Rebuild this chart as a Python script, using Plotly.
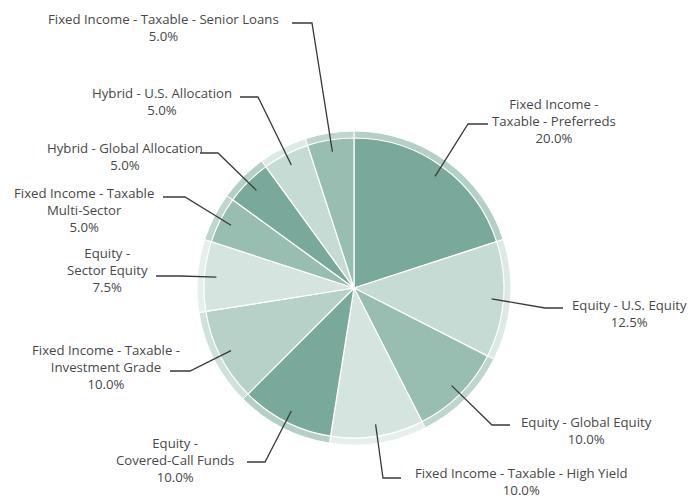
import math
import plotly.graph_objects as go

# ---- data ----
categories = [
    "Fixed Income - Taxable - Preferreds",
    "Equity - U.S. Equity",
    "Equity - Global Equity",
    "Fixed Income - Taxable - High Yield",
    "Equity - Covered-Call Funds",
    "Fixed Income - Taxable - Investment Grade",
    "Equity - Sector Equity",
    "Fixed Income - Taxable Multi-Sector",
    "Hybrid - Global Allocation",
    "Hybrid - U.S. Allocation",
    "Fixed Income - Taxable - Senior Loans",
]
values = [20.0, 12.5, 10.0, 10.0, 10.0, 10.0, 7.5, 5.0, 5.0, 5.0, 5.0]
label_text = [
    "Fixed Income -<br>Taxable - Preferreds",
    "Equity - U.S. Equity",
    "Equity - Global Equity",
    "Fixed Income - Taxable - High Yield",
    "Equity -<br>Covered-Call Funds",
    "Fixed Income - Taxable -<br>Investment Grade",
    "Equity -<br>Sector Equity",
    "Fixed Income - Taxable<br>Multi-Sector",
    "Hybrid - Global Allocation",
    "Hybrid - U.S. Allocation",
    "Fixed Income - Taxable - Senior Loans",
]

# ---- style ----
slice_colors = ["#79a99a", "#c6dbd4", "#98bdb1", "#d6e4df", "#79a99a", "#b7d0c8",
                "#d6e4df", "#98bdb1", "#79a99a", "#c6dbd4", "#98bdb1"]
ring_colors = ["#b4cfc6", "#dce9e4", "#bfd6ce", "#e7efec", "#b4cfc6", "#d0e1da",
               "#e7efec", "#bfd6ce", "#b4cfc6", "#dce9e4", "#bfd6ce"]

W, H = 693, 500
CX, CY = 354, 288      # pie centre (pixels)
R_IN, R_OUT = 150, 157
R_DOT = 138

# label layout: (text centre x, text block centre y, elbow x, elbow y, end x, end y)
label_layout = [
    (554, 121, 468, 124, 488, 124),
    (629, 313, 545, 308, 563, 308),
    (586, 430, 492, 425, 510, 425),
    (521, 481, 383, 478, 401, 478),
    (175, 460, 265, 462, 247, 462),
    (106, 367, 190, 371, 170, 371),
    (107, 270, 180, 276, 156, 276),
    (84, 210, 185, 197, 163, 197),
    (125, 156, 218, 153, 200, 153),
    (162, 101, 258, 97, 240, 97),
    (163, 27, 312, 23, 292, 23),
]


def dom(r):
    return dict(x=[(CX - r) / W, (CX + r) / W],
                y=[(H - CY - r) / H, (H - CY + r) / H])


fig = go.Figure()
common = dict(labels=categories, values=values, sort=False, direction="clockwise",
              rotation=0, textinfo="none", hoverinfo="label+percent", showlegend=False)
fig.add_trace(go.Pie(domain=dom(R_OUT),
                     marker=dict(colors=ring_colors, line=dict(color="white", width=1)),
                     **common))
fig.add_trace(go.Pie(domain=dom(R_IN),
                     marker=dict(colors=slice_colors, line=dict(color="white", width=1.2)),
                     **common))

total = sum(values)
cum = 0.0
dots_x, dots_y = [], []
shapes, annotations = [], []
for v, txt, pct, lay in zip(values, label_text, values, label_layout):
    mid = (cum + v / 2) / total * 2 * math.pi
    cum += v
    dx = CX + R_DOT * math.sin(mid)
    dy = CY - R_DOT * math.cos(mid)
    dots_x.append(dx)
    dots_y.append(dy)
    tx, ty, ex, ey, lx, ly = lay
    shapes.append(dict(type="path", xref="x", yref="y",
                       path=f"M{dx:.1f},{dy:.1f} L{ex},{ey} L{lx},{ly}",
                       line=dict(color="#3a3a3a", width=1.3)))
    annotations.append(dict(x=tx, y=ty, xref="x", yref="y", showarrow=False,
                            text=f"{txt}<br>{pct:.1f}%", align="center",
                            xanchor="center", yanchor="middle",
                            font=dict(family="Open Sans", size=13.2, color="#484848")))

fig.add_trace(go.Scatter(x=dots_x, y=dots_y, mode="markers",
                         marker=dict(size=8, color="#3a3a3a"),
                         hoverinfo="skip", showlegend=False))

fig.update_layout(
    width=W, height=H, margin=dict(l=0, r=0, t=0, b=0),
    paper_bgcolor="white", plot_bgcolor="rgba(0,0,0,0)",
    xaxis=dict(range=[0, W], visible=False, fixedrange=True),
    yaxis=dict(range=[H, 0], visible=False, fixedrange=True),
    shapes=shapes, annotations=annotations,
)
fig.write_html("out.html", config={"displayModeBar": False},
               post_script="document.body.style.margin='0';document.body.style.padding='0';")
